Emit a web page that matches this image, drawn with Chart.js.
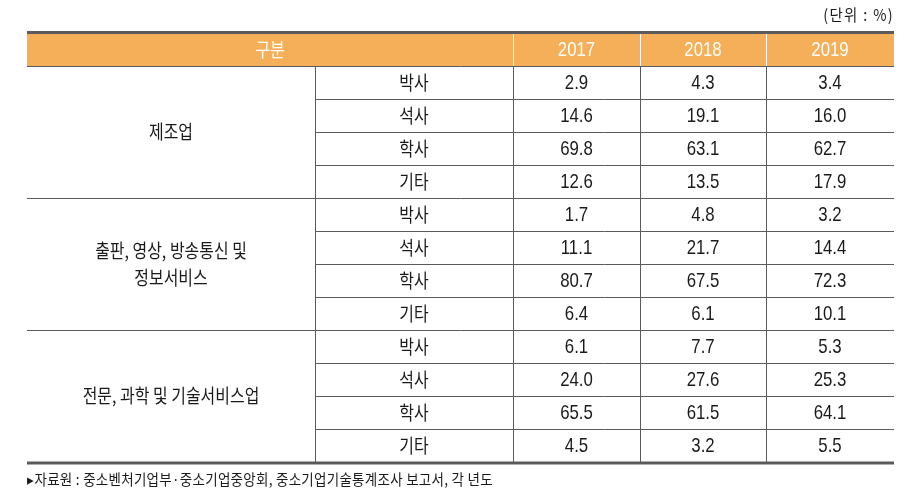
<!DOCTYPE html>
<html>
<head>
<meta charset="utf-8">
<script src="https://cdn.jsdelivr.net/npm/chart.js@4.4.1/dist/chart.umd.min.js"></script>
<style>
html,body{margin:0;padding:0;background:#fff;}
canvas{display:block;}
</style>
</head>
<body>
<canvas id="c" width="914" height="500"></canvas>
<script>
// ---- data ----
const groups = ['제조업', '출판, 영상, 방송통신 및\n정보서비스', '전문, 과학 및 기술서비스업'];
const degrees = ['박사', '석사', '학사', '기타'];
const years = ['2017', '2018', '2019'];
const v2017 = [2.9, 14.6, 69.8, 12.6, 1.7, 11.1, 80.7, 6.4, 6.1, 24.0, 65.5, 4.5];
const v2018 = [4.3, 19.1, 63.1, 13.5, 4.8, 21.7, 67.5, 6.1, 7.7, 27.6, 61.5, 3.2];
const v2019 = [3.4, 16.0, 62.7, 17.9, 3.2, 14.4, 72.3, 10.1, 5.3, 25.3, 64.1, 5.5];
const headerLabel = '구분';
const unitLabel = '(단위 : %)';
const sourceLabel = '▸자료원 : 중소벤처기업부·중소기업중앙회, 중소기업기술통계조사 보고서, 각 년도';

// ---- layout (column widths in x-scale units) ----
const colEdges = [0, 288, 486, 613, 739, 867];
const colCenter = i => (colEdges[i] + colEdges[i + 1]) / 2;
const values = [v2017, v2018, v2019];

const ORANGE = '#F4AF58';
const LINE = '#5b5b5b';
const TEXT = '#1a1a1a';
const KFONT = '"Noto Sans CJK KR", "Noto Sans", sans-serif';
const NFONT = '"Liberation Sans", Arial, sans-serif';

function condText(ctx, t, x, y, font, color, sx, align, spacing) {
  ctx.save();
  ctx.font = font;
  ctx.fillStyle = color;
  ctx.textAlign = align || 'center';
  ctx.textBaseline = 'middle';
  if (spacing) ctx.letterSpacing = spacing;
  ctx.translate(x, y);
  ctx.scale(sx, 1);
  ctx.fillText(t, 0, 0);
  ctx.restore();
}

const tablePlugin = {
  id: 'tablePlugin',
  afterDatasetsDraw(chart) {
    const ctx = chart.ctx;
    const xs = chart.scales.x, ys = chart.scales.y;
    const X = v => xs.getPixelForValue(v);
    const Y = v => ys.getPixelForValue(v);
    const L = X(colEdges[0]), R = X(colEdges[5]);
    const nRows = groups.length * degrees.length;

    // header background
    ctx.fillStyle = ORANGE;
    ctx.fillRect(L, Y(0), R - L, Y(1) - Y(0));
    // top & bottom thick lines
    ctx.fillStyle = LINE;
    ctx.fillRect(L, Y(0) - 2, R - L, 3);
    ctx.fillRect(L, Y(nRows + 1) - 0.5, R - L, 3);

    ctx.lineWidth = 1;
    // header white separators
    ctx.strokeStyle = '#ffffff';
    ctx.beginPath();
    [2, 3, 4].forEach(i => {
      const x = Math.round(X(colEdges[i])) + 0.5;
      ctx.moveTo(x, Y(0) + 1); ctx.lineTo(x, Y(1));
    });
    ctx.stroke();

    // body grid
    ctx.strokeStyle = LINE;
    ctx.beginPath();
    for (let r = 1; r <= nRows; r++) {
      const y = Math.round(Y(r)) + 0.5;
      const full = ((r - 1) % degrees.length) === 0;
      ctx.moveTo(full ? L : X(colEdges[1]), y);
      ctx.lineTo(R, y);
    }
    [1, 2, 3, 4].forEach(i => {
      const x = Math.round(X(colEdges[i])) + 0.5;
      ctx.moveTo(x, Y(1)); ctx.lineTo(x, Y(nRows + 1));
    });
    ctx.stroke();

    // header text
    condText(ctx, headerLabel, (X(colEdges[0]) + X(colEdges[2])) / 2, Y(0.5), '19px ' + KFONT, '#ffffff', 0.85);
    years.forEach((yr, i) => condText(ctx, yr, X(colCenter(i + 2)), Y(0.5) + 1, '21px ' + NFONT, '#ffffff', 0.8));

    // group labels
    groups.forEach((g, gi) => {
      const lines = g.split('\n');
      const cy = Y(1 + gi * degrees.length + degrees.length / 2);
      const lh = 27;
      lines.forEach((ln, li) => {
        condText(ctx, ln, X(colCenter(0)), cy + (li - (lines.length - 1) / 2) * lh, '19px ' + KFONT, TEXT, 0.84);
      });
      degrees.forEach((d, di) => {
        condText(ctx, d, X(colCenter(1)), Y(1 + gi * degrees.length + di + 0.5), '19px ' + KFONT, TEXT, 0.84);
      });
    });

    // values from dataset elements
    chart.data.datasets.forEach((ds, di) => {
      const meta = chart.getDatasetMeta(di);
      meta.data.forEach((pt, i) => {
        condText(ctx, values[di][i].toFixed(1), pt.x, pt.y + 1, '21px ' + NFONT, TEXT, 0.8);
      });
    });

    // unit and source
    condText(ctx, unitLabel, R, 15, '16px ' + KFONT, TEXT, 0.9, 'right', '1.5px');
    condText(ctx, sourceLabel, L, 479, '15px ' + KFONT, TEXT, 0.9, 'left', '0.3px');
  }
};

new Chart(document.getElementById('c'), {
  type: 'scatter',
  data: {
    datasets: years.map((yr, yi) => ({
      label: yr,
      data: values[yi].map((v, i) => ({ x: colCenter(yi + 2), y: i + 1.5 })),
      pointRadius: 0,
      pointHoverRadius: 0
    }))
  },
  options: {
    responsive: false,
    animation: false,
    events: [],
    layout: { padding: { left: 27, right: 20, top: 33, bottom: 38 } },
    plugins: { legend: { display: false }, tooltip: { enabled: false } },
    scales: {
      x: { type: 'linear', min: colEdges[0], max: colEdges[5], display: false },
      y: { type: 'linear', min: 0, max: groups.length * degrees.length + 1, reverse: true, display: false }
    }
  },
  plugins: [tablePlugin]
});
</script>
</body>
</html>
